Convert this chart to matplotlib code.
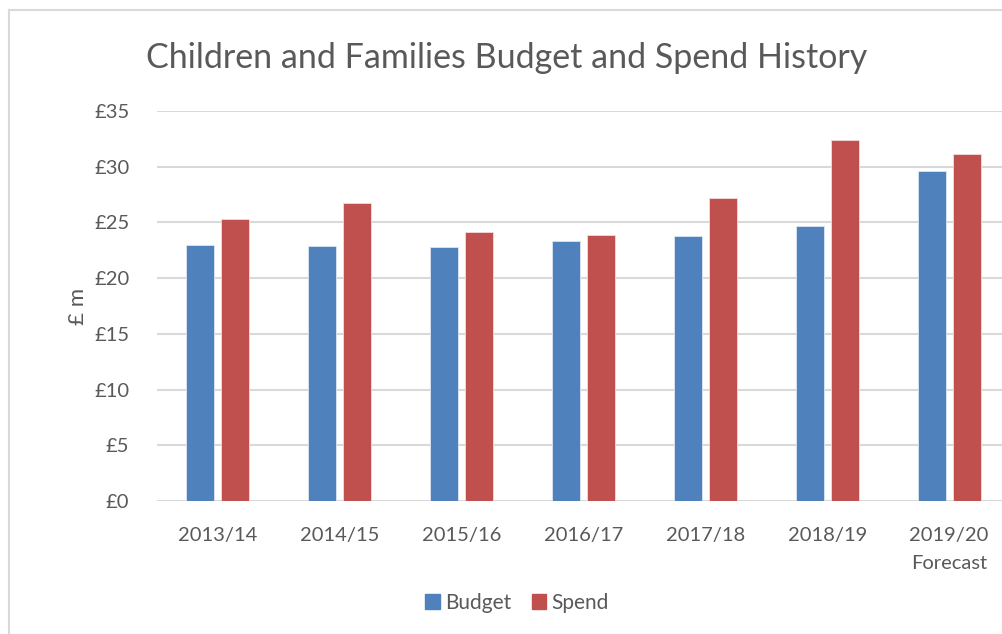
import matplotlib
matplotlib.use("Agg")
import matplotlib.pyplot as plt
from matplotlib.patches import Rectangle
from matplotlib.lines import Line2D

categories = ["2013/14", "2014/15", "2015/16", "2016/17", "2017/18", "2018/19", "2019/20\nForecast"]
budget = [23.0, 22.9, 22.8, 23.3, 23.8, 24.7, 29.6]
spend = [25.3, 26.7, 24.1, 23.9, 27.2, 32.4, 31.1]
yticks = [0, 5, 10, 15, 20, 25, 30, 35]
ytick_labels = ["£0", "£5", "£10", "£15", "£20", "£25", "£30", "£35"]

plt.rcParams['font.family'] = ['Lato', 'DejaVu Sans']
TXT = '#595959'
GRID = '#D9D9D9'
BLUE = '#4F81BD'
RED = '#C0504D'

W, H = 1002, 634
fig = plt.figure(figsize=(W / 100, H / 100), dpi=100)

# chart frame (left and top border visible)
fig.add_artist(Line2D([9 / W, 9 / W], [0, 1 - 10 / H], transform=fig.transFigure, color=GRID, lw=1.5))
fig.add_artist(Line2D([9 / W, 1], [1 - 10 / H, 1 - 10 / H], transform=fig.transFigure, color=GRID, lw=1.5))

left, right = 157, 1002
top, bottom = 111, 501
ax = fig.add_axes([left / W, 1 - bottom / H, (right - left) / W, (bottom - top) / H])

x = list(range(len(categories)))
bw = 0.23
off = 0.144
ax.bar([i - off for i in x], budget, width=bw, color=BLUE, edgecolor='#DCE6F2', linewidth=0.6, zorder=3, label='Budget')
ax.bar([i + off for i in x], spend, width=bw, color=RED, edgecolor='#F2DCDB', linewidth=0.6, zorder=3, label='Spend')

ax.set_ylim(0, 35)
ax.set_xlim(-0.5, 6.5 - 8 / 121.8)
ax.set_yticks(yticks)
ax.set_yticklabels(ytick_labels)
ax.set_xticks(x)
ax.set_xticklabels(categories, linespacing=1.75)
for s in ax.spines.values():
    s.set_visible(False)
ax.yaxis.grid(True, color=GRID, lw=1.5, zorder=0)
ax.set_axisbelow(True)
ax.tick_params(axis='both', length=0, labelsize=14.5, labelcolor=TXT)
ax.tick_params(axis='y', pad=20)
ax.tick_params(axis='x', pad=19)
ax.set_ylabel('£ m', fontsize=16, color=TXT, labelpad=4)

fig.text(507 / W, 1 - 58 / H, 'Children and Families Budget and Spend History',
         ha='center', va='center', fontsize=24.5, color=TXT)

handles = [Rectangle((0, 0), 1, 1, color=BLUE), Rectangle((0, 0), 1, 1, color=RED)]
fig.legend(handles, ['Budget', 'Spend'], loc='center', bbox_to_anchor=(517 / W, 1 - 603 / H),
           ncol=2, frameon=False, fontsize=15, labelcolor=TXT, handlelength=0.7, handleheight=0.7,
           handletextpad=0.25, columnspacing=1.0)

fig.savefig('out.png', dpi=100, facecolor='white')
